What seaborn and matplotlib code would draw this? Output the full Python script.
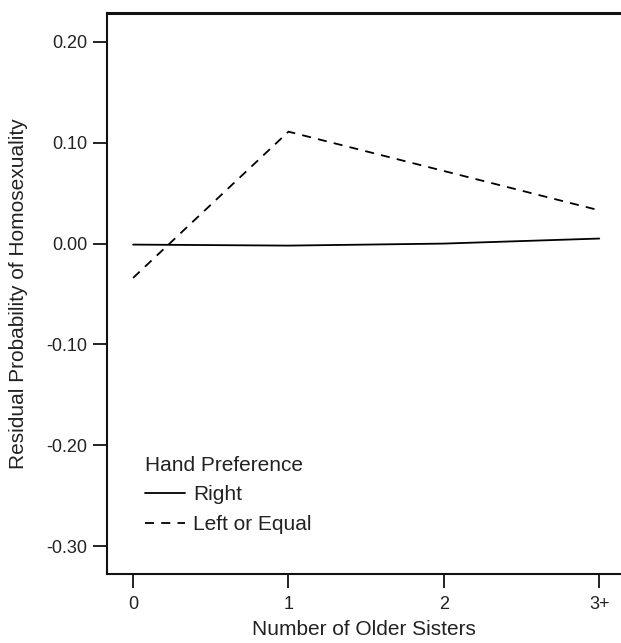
import matplotlib
matplotlib.use("Agg")
import matplotlib.pyplot as plt
import seaborn as sns
import pandas as pd

# Number of older sisters (category positions) and their tick labels
sister_pos = [0, 1, 2, 3]
sister_labels = ["0", "1", "2", "3+"]

# Residual probability of homosexuality by hand preference
right_vals = [-0.001, -0.002, 0.000, 0.005]
left_equal_vals = [-0.034, 0.111, 0.072, 0.033]

groups = ["Right", "Left or Equal"]

df = pd.DataFrame({
    "sisters": sister_pos * 2,
    "resid": right_vals + left_equal_vals,
    "hand": [groups[0]] * 4 + [groups[1]] * 4,
})

sns.set_theme(style="ticks")
plt.rcParams["font.family"] = ["Liberation Sans", "DejaVu Sans"]

fig = plt.figure(figsize=(6.21, 6.43), dpi=100)
ax = fig.add_axes([0.1723, 0.1073, 0.8277, 0.8725])

sns.lineplot(
    data=df, x="sisters", y="resid", style="hand", style_order=groups,
    dashes={"Right": "", "Left or Equal": (5, 4)},
    color="black", linewidth=1.3, ax=ax, legend=True,
)

ax.set_xlim(-0.168, 3.14)
ax.set_ylim(-0.3277, 0.2287)
ax.set_xticks(sister_pos)
ax.set_xticklabels(sister_labels)
ax.set_yticks([0.20, 0.10, 0.00, -0.10, -0.20, -0.30])
ax.set_yticklabels(["0.20", "0.10", "0.00", "-0.10", "-0.20", "-0.30"])

ax.set_xlabel("Number of Older Sisters", fontsize=15, labelpad=5, color="#222222")
ax.set_ylabel("Residual Probability of Homosexuality", fontsize=15, labelpad=13, color="#222222")

ax.tick_params(axis="both", direction="out", length=10, width=1.4, labelsize=13,
               colors="#222222", pad=4)
ax.tick_params(axis="x", pad=6)

for side in ["left", "bottom", "top"]:
    ax.spines[side].set_linewidth(1.5)
    ax.spines[side].set_color("#111111")
ax.spines["top"].set_linewidth(2.2)
ax.spines["right"].set_visible(False)

leg = ax.legend(
    title="Hand Preference", frameon=False, fontsize=15, title_fontsize=15,
    loc="lower left", bbox_to_anchor=(0.053, 0.053), borderpad=0, alignment="left",
    handlelength=1.95, handletextpad=0.38, labelspacing=0.5,
)
for t in leg.get_texts():
    t.set_color("#222222")
leg.get_title().set_color("#222222")

fig.savefig("out.png", dpi=100, facecolor="white")
